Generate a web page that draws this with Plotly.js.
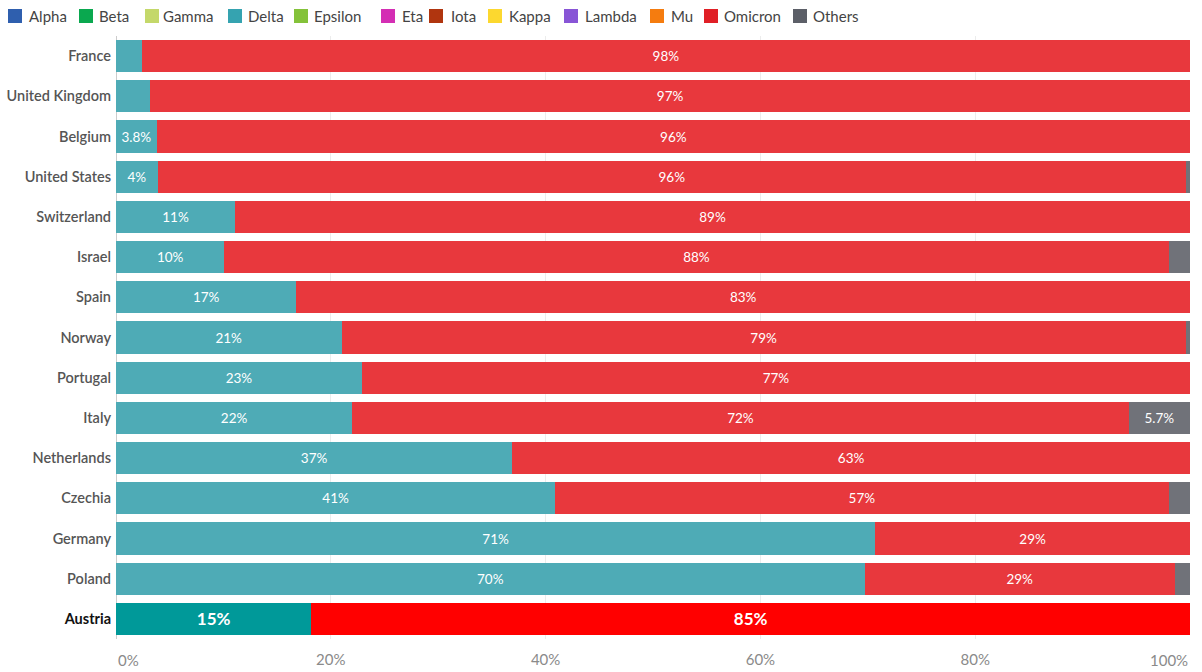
<!DOCTYPE html>
<html>
<head>
<meta charset="utf-8">
<script src="https://cdn.plot.ly/plotly-3.0.1.min.js"></script>
<style>html,body{margin:0;padding:0;background:#fff;}#chart{width:1202px;height:672px;}</style>
</head>
<body>
<div id="chart"></div>
<script>
// Countries (top to bottom)
const countries = ["France","United Kingdom","Belgium","United States","Switzerland","Israel","Spain","Norway","Portugal","Italy","Netherlands","Czechia","Germany","Poland","Austria"];
const countryLabels = ["France","United Kingdom","Belgium","United States","Switzerland","Israel","Spain","Norway","Portugal","Italy","Netherlands","Czechia","Germany","Poland","<span style='color:#111'><b>Austria</b></span>"];

// Variant shares (%)
const deltaValues   = [2.4, 3.2, 3.8, 3.9, 11.1, 10.1, 16.8, 21.0, 22.9, 22.0, 36.9, 40.9, 70.7, 69.7, 18.2];
const omicronValues = [97.6, 96.8, 96.2, 95.7, 88.9, 87.9, 83.2, 78.6, 77.1, 72.3, 63.1, 57.1, 29.3, 28.9, 81.8];
const othersValues  = [0, 0, 0, 0.4, 0, 2.0, 0, 0.4, 0, 5.7, 0, 2.0, 0, 1.4, 0];
const zeroValues    = [0,0,0,0,0,0,0,0,0,0,0,0,0,0,0];

// Printed labels
const deltaLabels   = ["", "", "3.8%", "4%", "11%", "10%", "17%", "21%", "23%", "22%", "37%", "41%", "71%", "70%", "<b>15%</b>"];
const omicronLabels = ["98%","97%","96%","96%","89%","88%","83%","79%","77%","72%","63%","57%","29%","29%","<b>85%</b>"];
const othersLabels  = ["","","","","","","","","","5.7%","","","","",""];

// Legend entries
const variants = ["Alpha","Beta","Gamma","Delta","Epsilon","Eta","Iota","Kappa","Lambda","Mu","Omicron","Others"];
const variantColors = ["#2f5fae","#0aa84f","#c4d86a","#35a3b0","#84c23a","#d42eb4","#b0350f","#fcd82f","#8855d6","#f57c0f","#e01f26","#5c5f68"];
const legendSwatchX = [8, 79, 145, 228, 294, 381, 429, 488, 564, 650, 704, 793];
const legendTextX   = [27, 97, 161, 246, 312, 400, 449, 507, 583, 669, 722, 811];

// X axis ticks (end labels are placed flush with the plot edges)
const xTicks = [0, 20, 40, 60, 80, 100];
const xTickText = ["", "20%", "40%", "60%", "80%", ""];
const xEndLabels = ["0%", "100%"];

const deltaBar = "#4eabb6", omicronBar = "#e8383d", othersBar = "#707279";
const deltaColors = countries.map(c => c === "Austria" ? "#009999" : deltaBar);
const omicronColors = countries.map(c => c === "Austria" ? "#ff0000" : omicronBar);
const textSizes = countries.map(c => c === "Austria" ? 17 : 13.5);

const traces = variants.map((v, i) => {
  let x = zeroValues, text = null, colors = variantColors[i];
  if (v === "Delta") { x = deltaValues; text = deltaLabels; colors = deltaColors; }
  else if (v === "Omicron") { x = omicronValues; text = omicronLabels; colors = omicronColors; }
  else if (v === "Others") { x = othersValues; text = othersLabels; colors = othersBar; }
  return {
    type: "bar", orientation: "h", name: v,
    y: countries, x: x,
    text: text, texttemplate: text ? "%{text}" : "",
    textposition: "inside", insidetextanchor: "middle", constraintext: "none",
    textfont: {family: "Lato, 'Open Sans', sans-serif", size: text ? textSizes : 13, color: "#ffffff"},
    marker: {color: colors, line: {width: 0}},
    showlegend: false,
    hoverinfo: "x+y+name"
  };
});

// Margins (pixels)
const ML = 116, MT = 36;

const shapes = variants.map((v, i) => ({
  type: "rect", xref: "paper", yref: "paper",
  xsizemode: "pixel", ysizemode: "pixel", xanchor: 0, yanchor: 1,
  x0: legendSwatchX[i] - ML, x1: legendSwatchX[i] - ML + 14,
  y0: MT - 23, y1: MT - 9,
  fillcolor: variantColors[i], line: {width: 0}
}));
const annotations = variants.map((v, i) => ({
  text: v, xref: "paper", yref: "paper", x: 0, y: 1,
  xanchor: "left", yanchor: "middle", xshift: legendTextX[i] - ML, yshift: MT - 16,
  showarrow: false, font: {size: 15, color: "#444", family: "Lato, 'Open Sans', sans-serif"}
}));
// end tick labels
annotations.push({text: xEndLabels[0], xref: "x", yref: "paper", x: xTicks[0], y: 0,
  xanchor: "left", yanchor: "top", yshift: -10, showarrow: false,
  font: {size: 15, color: "#8a8a8a", family: "Lato, 'Open Sans', sans-serif"}});
annotations.push({text: xEndLabels[1], xref: "x", yref: "paper", x: xTicks[5], y: 0,
  xanchor: "right", yanchor: "top", yshift: -10, showarrow: false,
  font: {size: 15, color: "#8a8a8a", family: "Lato, 'Open Sans', sans-serif"}});

const layout = {
  width: 1202, height: 672,
  margin: {l: ML, r: 12, t: MT, b: 33},
  barmode: "stack", bargap: 0.2,
  paper_bgcolor: "#ffffff", plot_bgcolor: "#ffffff",
  font: {family: "Lato, 'Open Sans', sans-serif", color: "#555"},
  showlegend: false,
  xaxis: {range: [0, 100], tickvals: xTicks, ticktext: xTickText,
          showgrid: true, gridcolor: "#ececec", zeroline: true, zerolinecolor: "#cccccc",
          tickfont: {size: 15, color: "#8a8a8a"}, fixedrange: true, ticks: "",
          ticklabelstandoff: 10},
  yaxis: {type: "category", categoryarray: countries, autorange: "reversed",
          tickvals: countries, ticktext: countryLabels, ticks: "", ticklabelstandoff: 4,
          tickfont: {size: 14.5, color: "#555", weight: 600}, showgrid: false},
  shapes: shapes,
  annotations: annotations
};
Plotly.newPlot("chart", traces, layout, {displayModeBar: false, staticPlot: true});
</script>
</body>
</html>
